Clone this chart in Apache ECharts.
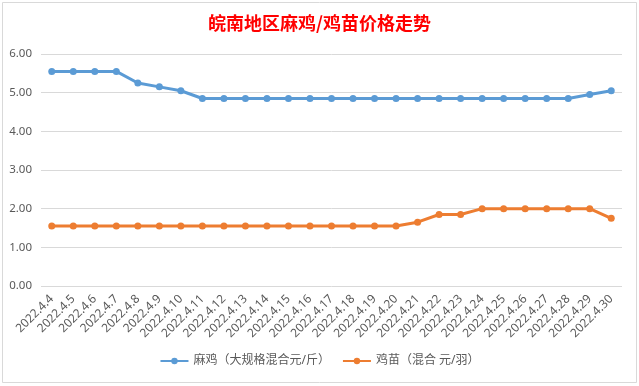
<!DOCTYPE html>
<html><head><meta charset="utf-8">
<script src="https://cdn.jsdelivr.net/npm/echarts@6/dist/echarts.min.js"></script>
<style>html,body{margin:0;padding:0;background:#fff}#c{width:639px;height:386px}</style>
</head><body><div id="c"></div>
<script>
const categories = ['2022.4.4','2022.4.5','2022.4.6','2022.4.7','2022.4.8','2022.4.9','2022.4.10','2022.4.11','2022.4.12','2022.4.13','2022.4.14','2022.4.15','2022.4.16','2022.4.17','2022.4.18','2022.4.19','2022.4.20','2022.4.21','2022.4.22','2022.4.23','2022.4.24','2022.4.25','2022.4.26','2022.4.27','2022.4.28','2022.4.29','2022.4.30'];
const majiValues = [5.55,5.55,5.55,5.55,5.25,5.15,5.05,4.85,4.85,4.85,4.85,4.85,4.85,4.85,4.85,4.85,4.85,4.85,4.85,4.85,4.85,4.85,4.85,4.85,4.85,4.95,5.05];
const jimiaoValues = [1.55,1.55,1.55,1.55,1.55,1.55,1.55,1.55,1.55,1.55,1.55,1.55,1.55,1.55,1.55,1.55,1.55,1.65,1.85,1.85,2.0,2.0,2.0,2.0,2.0,2.0,1.75];
const seriesNames = ['麻鸡（大规格混合元/斤）','鸡苗（混合 元/羽）'];
const titleText = '皖南地区麻鸡/鸡苗价格走势';

const chart = echarts.init(document.getElementById('c'), null, {renderer:'canvas'});
const font = "'Noto Sans','Noto Sans CJK SC',sans-serif";
chart.setOption({
  animation:false,
  backgroundColor:'#fff',
  title:{text:titleText,left:'center',top:9,textStyle:{color:'#FF0000',fontSize:18,fontWeight:'bold',fontFamily:"'Noto Sans CJK SC',serif"}},
  graphic:[{type:'rect',shape:{x:2.5,y:2.5,width:634,height:380},style:{fill:'none',stroke:'#D9D9D9',lineWidth:1},silent:true}],
  legend:{bottom:14,left:'center',itemWidth:28,itemHeight:8,itemGap:12,
    textStyle:{color:'#595959',fontSize:12,fontFamily:font},
    data:seriesNames},
  grid:{left:41,right:17,top:54,bottom:100},
  xAxis:{type:'category',data:categories,boundaryGap:true,
    axisLine:{show:false},axisTick:{show:false},
    axisLabel:{rotate:45,interval:0,margin:11,color:'#595959',fontSize:12,fontFamily:font}},
  yAxis:{type:'value',min:0,max:6,interval:1,
    axisLine:{show:false},axisTick:{show:false},
    axisLabel:{formatter:v=>v.toFixed(2),color:'#595959',fontSize:11.5,margin:9,fontFamily:font},
    splitLine:{lineStyle:{color:'#D9D9D9',width:1}}},
  series:[
    {name:seriesNames[0],type:'line',data:majiValues,color:'#5B9BD5',symbol:'circle',symbolSize:7,
      lineStyle:{width:3,color:'#5B9BD5'},itemStyle:{color:'#5B9BD5'}},
    {name:seriesNames[1],type:'line',data:jimiaoValues,color:'#ED7D31',symbol:'circle',symbolSize:7,
      lineStyle:{width:3,color:'#ED7D31'},itemStyle:{color:'#ED7D31'}}
  ]
});
</script></body></html>
